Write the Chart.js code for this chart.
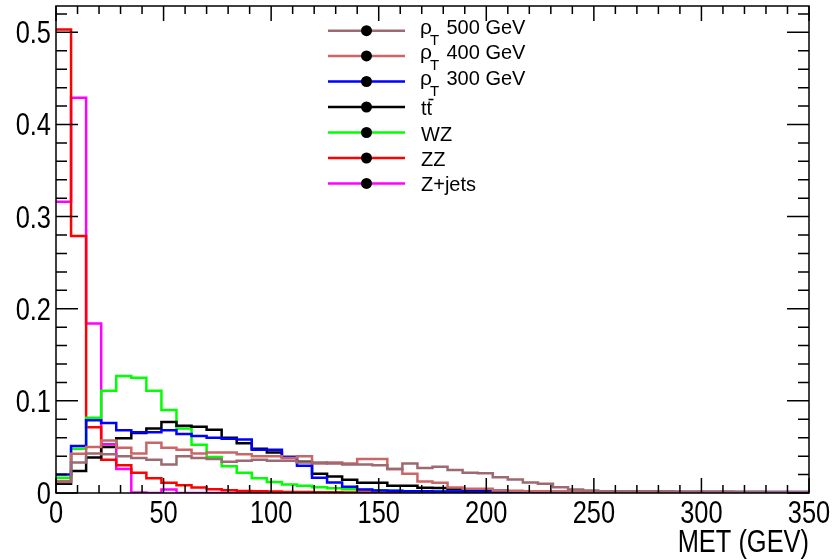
<!DOCTYPE html>
<html>
<head>
<meta charset="utf-8">
<script src="https://cdn.jsdelivr.net/npm/chart.js@4.4.1/dist/chart.umd.min.js"></script>
<style>
  html, body { margin: 0; padding: 0; background: #fff; }
  #wrap { width: 837px; height: 560px; }
</style>
</head>
<body>
<div id="wrap"><canvas id="chartMet"></canvas></div>
<script>
// bornes basses des bins (7 GeV)
const binLow = [0, 7, 14, 21, 28, 35, 42, 49, 56, 63, 70, 77, 84, 91, 98, 105, 112, 119, 126, 133,
    140, 147, 154, 161, 168, 175, 182, 189, 196, 203, 210, 217, 224, 231, 238, 245, 252, 259, 266, 273,
    280, 287, 294, 301, 308, 315, 322, 329, 336, 343];
const xMax = 350;
const yMax = 0.5286;

const xTicks = [0, 50, 100, 150, 200, 250, 300, 350];
const yTicks = [0, 0.1, 0.2, 0.3, 0.4, 0.5];
const yTickLabels = ['0', '0.1', '0.2', '0.3', '0.4', '0.5'];

const rho500 = [0.012, 0.033, 0.043, 0.042, 0.040, 0.038, 0.036, 0.031, 0.040, 0.038,
    0.037, 0.034, 0.035, 0.036, 0.035, 0.035, 0.033, 0.033, 0.032, 0.031,
    0.031, 0.030, 0.026, 0.032, 0.027, 0.0285, 0.025, 0.022, 0.0215, 0.017,
    0.0147, 0.0114, 0.010, 0.0063, 0.0038, 0.0027, 0.002, 0.002, 0.002, 0.0019,
    0.0018, 0.0017, 0.0016, 0.0015, 0.0015, 0.0014, 0.0013, 0.0012, 0.0012, 0.0011];
const rho400 = [0.013, 0.0425, 0.050, 0.057, 0.049, 0.043, 0.0545, 0.049, 0.047, 0.043,
    0.044, 0.044, 0.042, 0.040, 0.040, 0.038, 0.040, 0.032, 0.033, 0.032,
    0.037, 0.037, 0.026, 0.021, 0.0125, 0.011, 0.006, 0.0045, 0.0045, 0.0028,
    0.0025, 0.002, 0.0018, 0.0015, 0.0012, 0.001, 0.001, 0.0009, 0.0008, 0.0008,
    0.0007, 0.0006, 0.0006, 0.0005, 0.0005, 0.0004, 0.0004, 0.0003, 0.0003, 0.0003];
const rho300 = [0.020, 0.051, 0.079, 0.076, 0.068, 0.066, 0.066, 0.068, 0.064, 0.062,
    0.060, 0.059, 0.058, 0.047, 0.047, 0.039, 0.0295, 0.0165, 0.0113, 0.0067,
    0.0038, 0.0028, 0.0025, 0.002, 0.002, 0.0017, 0.0015, 0.0014, 0.0013, 0.0012,
    0.0012, 0.0011, 0.0011, 0.001, 0.001, 0.001, 0.001, 0.001, 0.001, 0.001,
    0.001, 0.001, 0.001, 0.001, 0.001, 0.001, 0.001, 0.001, 0.001, 0.001];
const ttbar = [0.010, 0.024, 0.0385, 0.050, 0.0595, 0.065, 0.070, 0.077, 0.073, 0.072,
    0.0686, 0.060, 0.054, 0.048, 0.044, 0.039, 0.034, 0.021, 0.018, 0.0143,
    0.011, 0.011, 0.008, 0.008, 0.0056, 0.0055, 0.004, 0.0035, 0.003, 0.0025,
    0.002, 0.002, 0.0015, 0.0012, 0.001, 0.001, 0.0008, 0.0007, 0.0006, 0.0005,
    0.0004, 0.0004, 0.0003, 0.0003, 0.0002, 0.0002, 0.0002, 0.0001, 0.0001, 0.0001];
const wz = [0.0165, 0.048, 0.0816, 0.111, 0.127, 0.125, 0.111, 0.090, 0.070, 0.0525,
    0.039, 0.029, 0.022, 0.016, 0.012, 0.0092, 0.008, 0.0063, 0.0052, 0.004,
    0.0035, 0.003, 0.0025, 0.002, 0.0018, 0.0015, 0.0014, 0.0012, 0.001, 0.0008,
    0.0007, 0.0006, 0.0005, 0.0004, 0.0003, 0.0003, 0.0002, 0.0002, 0.0001, 0.0001,
    0, 0, 0, 0, 0, 0, 0, 0, 0, 0];
const zz = [0.503, 0.279, 0.0715, 0.036, 0.030, 0.022, 0.016, 0.011, 0.0085, 0.006,
    0.0042, 0.003, 0.0022, 0.0018, 0.0015, 0.0012, 0.001, 0.0008, 0.0007, 0.0006,
    0.0005, 0.0004, 0.0004, 0.0003, 0.0003, 0.0002, 0.0002, 0.0002, 0.0001, 0.0001,
    0, 0, 0, 0, 0, 0, 0, 0, 0, 0,
    0, 0, 0, 0, 0, 0, 0, 0, 0, 0];
const zjets = [0.316, 0.429, 0.184, 0.053, 0.026, 0.0005, 0, 0.0038, 0, 0,
    0, 0, 0, 0, 0, 0, 0, 0, 0, 0,
    0, 0, 0, 0, 0, 0, 0, 0, 0, 0,
    0, 0, 0, 0, 0, 0, 0, 0, 0, 0,
    0, 0, 0, 0, 0, 0, 0, 0, 0, 0];

const series = [
    { name: '500', sub: true, data: rho500, color: '#9c6a70' },
    { name: '400', sub: true, data: rho400, color: '#cc6666' },
    { name: '300', sub: true, data: rho300, color: '#0000ff' },
    { name: 'tt', sub: false, data: ttbar, color: '#000000' },
    { name: 'WZ', sub: false, data: wz, color: '#00ff00' },
    { name: 'ZZ', sub: false, data: zz, color: '#ff0000' },
    { name: 'Z+jets', sub: false, data: zjets, color: '#ff00ff' }
];

// histogramme en escalier : un point par borne basse + la borne haute finale
function histPoints(vals) {
    const pts = binLow.map((x, i) => ({ x: x, y: vals[i] }));
    pts.push({ x: xMax, y: vals[vals.length - 1] });
    return pts;
}

const AXIS_FONT = '31px "Liberation Sans", Arial, sans-serif';
const LEG_FONT = '20px "Liberation Sans", Arial, sans-serif';
const SQUEEZE = 0.82;

function squeezedText(ctx, txt, x, y, align) {
    ctx.save();
    ctx.translate(x, y);
    ctx.scale(SQUEEZE, 1);
    ctx.textAlign = align;
    ctx.fillText(txt, 0, 0);
    ctx.restore();
}

// cadre, graduations façon ROOT, étiquettes et légende
const rootFrame = {
    id: 'rootFrame',
    afterDatasetsDraw(chart) {
        const ctx = chart.ctx;
        const a = chart.chartArea;
        const xs = chart.scales.x;
        const ys = chart.scales.y;
        ctx.save();
        ctx.strokeStyle = '#000';
        ctx.lineWidth = 1.5;
        ctx.strokeRect(a.left, a.top, a.right - a.left, a.bottom - a.top);

        ctx.beginPath();
        for (let v = 0; v <= xMax; v += 10) {
            const px = xs.getPixelForValue(v);
            const len = (v % 50 === 0) ? 15 : 8;
            ctx.moveTo(px, a.bottom); ctx.lineTo(px, a.bottom - len);
            ctx.moveTo(px, a.top); ctx.lineTo(px, a.top + len);
        }
        for (let k = 0; k <= 26; k++) {
            const v = k * 0.02;
            const py = ys.getPixelForValue(v);
            const len = (k % 5 === 0) ? 22 : 11;
            ctx.moveTo(a.left, py); ctx.lineTo(a.left + len, py);
            ctx.moveTo(a.right, py); ctx.lineTo(a.right - len, py);
        }
        ctx.stroke();

        ctx.fillStyle = '#000';
        ctx.font = AXIS_FONT;
        ctx.textBaseline = 'alphabetic';
        yTicks.forEach((v, i) => {
            squeezedText(ctx, yTickLabels[i], a.left - 5, ys.getPixelForValue(v) + 11, 'right');
        });
        xTicks.forEach(v => {
            squeezedText(ctx, String(v), xs.getPixelForValue(v), a.bottom + 30, 'center');
        });
        squeezedText(ctx, 'MET (GEV)', a.right, 552, 'right');

        // légende
        const rowY = [30.7, 55.9, 81.5, 107, 132.5, 158, 183.4];
        series.forEach((s, i) => {
            const y = rowY[i];
            ctx.strokeStyle = s.color;
            ctx.lineWidth = 2.5;
            ctx.beginPath();
            ctx.moveTo(328, y); ctx.lineTo(405, y);
            ctx.stroke();
            ctx.fillStyle = '#000';
            ctx.beginPath();
            ctx.arc(366.5, y, 5.5, 0, Math.PI * 2);
            ctx.fill();
            ctx.textAlign = 'left';
            ctx.font = LEG_FONT;
            if (s.sub) {
                ctx.font = '21px "Liberation Sans", Arial, sans-serif';
                ctx.fillText('ρ', 420, y + 3);
                ctx.font = '15px "Liberation Sans", Arial, sans-serif';
                ctx.fillText('T', 430, y + 14);
                ctx.font = LEG_FONT;
                ctx.fillText(s.name + ' GeV', 446.5, y + 3);
            } else if (s.name === 'tt') {
                ctx.fillText('tt', 421, y + 8);
                ctx.lineWidth = 1.5;
                ctx.strokeStyle = '#000';
                ctx.beginPath();
                ctx.moveTo(428.5, y - 7.5); ctx.lineTo(433.5, y - 7.5);
                ctx.stroke();
            } else {
                ctx.fillText(s.name, 421, y + 8);
            }
        });
        ctx.restore();
    }
};

document.addEventListener('DOMContentLoaded', function() {
    const ctx = document.getElementById('chartMet');
    new Chart(ctx, {
        type: 'line',
        data: {
            datasets: series.map(s => ({
                label: s.name,
                data: histPoints(s.data),
                borderColor: s.color,
                borderWidth: 2.5,
                stepped: true,
                pointRadius: 0,
                fill: false
            }))
        },
        options: {
            responsive: true,
            maintainAspectRatio: false,
            animation: false,
            layout: {
                padding: { left: 56, right: 28, top: 6, bottom: 67 }
            },
            plugins: {
                legend: { display: false },
                tooltip: { enabled: false }
            },
            scales: {
                x: { type: 'linear', min: 0, max: xMax, display: false },
                y: { type: 'linear', min: 0, max: yMax, display: false }
            }
        },
        plugins: [rootFrame]
    });
});
</script>
</body>
</html>
